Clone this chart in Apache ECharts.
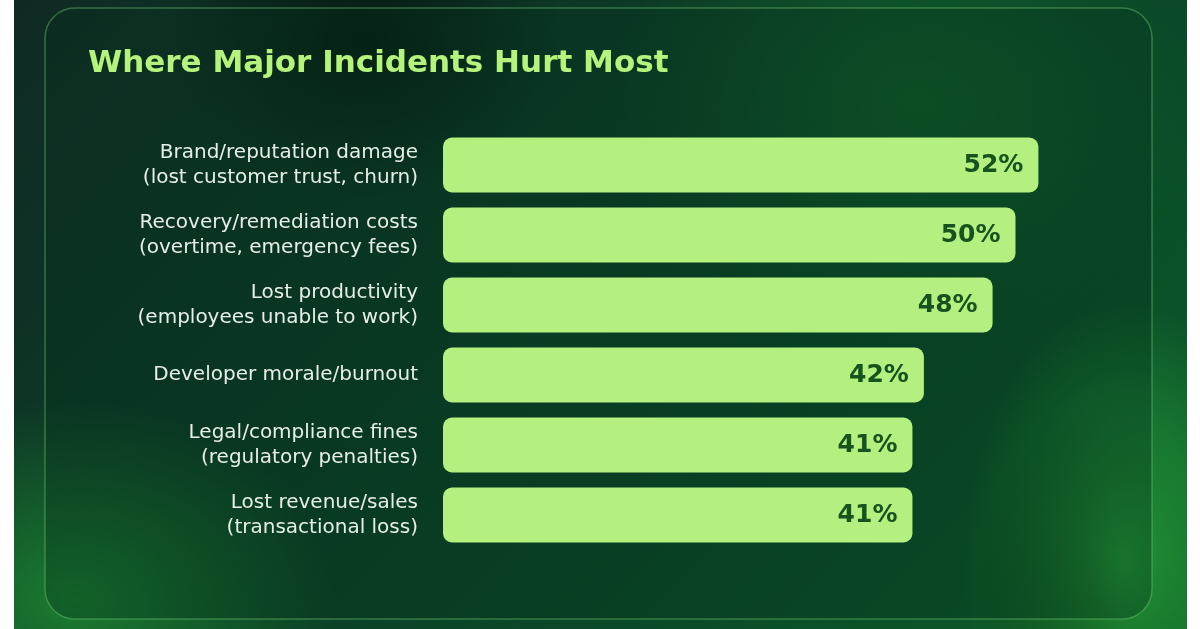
<!DOCTYPE html>
<html>
<head>
<meta charset="utf-8">
<script src="https://cdn.jsdelivr.net/npm/echarts@6/dist/echarts.min.js"></script>
<style>
html,body{margin:0;padding:0;background:#ffffff;width:1200px;height:629px;overflow:hidden;}
#bg{position:absolute;left:14px;top:0;width:1173px;height:629px;
 background:
  radial-gradient(ellipse 160px 260px at 1110px 560px, rgba(40,170,60,0.85), rgba(40,170,60,0) 100%),
  radial-gradient(ellipse 120px 200px at 1080px 600px, rgba(0,20,10,0.9), rgba(0,20,10,0) 100%),
  radial-gradient(ellipse 260px 200px at 60px 600px, rgba(30,140,50,0.8), rgba(30,140,50,0) 100%),
  radial-gradient(ellipse 200px 160px at 350px 40px, rgba(5,25,15,0.9), rgba(5,25,15,0) 100%),
  radial-gradient(ellipse 300px 250px at 900px 100px, rgba(20,110,45,0.6), rgba(20,110,45,0) 100%),
  linear-gradient(135deg, #0f2a24 0%, #0c3a26 35%, #0a4a28 70%, #0e5e2a 100%);}
#chart{position:absolute;left:0;top:0;width:1200px;height:629px;}
</style>
</head>
<body>
<div id="bg"></div>
<div id="chart"></div>
<script>
const titleText = 'Where Major Incidents Hurt Most';
const categories = [
  'Brand/reputation damage\n(lost customer trust, churn)',
  'Recovery/remediation costs\n(overtime, emergency fees)',
  'Lost productivity\n(employees unable to work)',
  'Developer morale/burnout',
  'Legal/compliance fines\n(regulatory penalties)',
  'Lost revenue/sales\n(transactional loss)'
];
const values = [52, 50, 48, 42, 41, 41];

const chart = echarts.init(document.getElementById('chart'), null, {renderer: 'canvas'});
chart.setOption({
  backgroundColor: 'transparent',
  animation: false,
  title: {
    text: titleText,
    left: 83, top: 43,
    textStyle: {color: '#b6f37c', fontFamily: 'DejaVu Sans', fontWeight: 'bold', fontSize: 31}
  },
  graphic: [{
    type: 'rect',
    shape: {x: 45, y: 8, width: 1107, height: 611, r: 30},
    style: {fill: 'rgba(6,50,30,0.35)', stroke: 'rgba(110,190,110,0.45)', lineWidth: 1.5},
    silent: true, z: -1
  }],
  grid: {left: 443, right: 70, top: 130, bottom: 79, containLabel: false},
  xAxis: {
    type: 'value', min: 0, max: 60, show: false
  },
  yAxis: {
    type: 'category', inverse: true, data: categories,
    axisLine: {show: false}, axisTick: {show: false}, splitLine: {show: false},
    axisLabel: {
      color: '#e6efe6', fontFamily: 'DejaVu Sans', fontSize: 20, lineHeight: 25,
      margin: 25, align: 'right'
    }
  },
  series: [{
    type: 'bar', data: values, barWidth: 55,
    itemStyle: {color: '#b3f07f', borderRadius: 9},
    label: {
      show: true, position: 'insideRight', distance: 15,
      formatter: '{c}%', color: '#17521f', fontFamily: 'DejaVu Sans', fontWeight: 'bold', fontSize: 25
    }
  }]
});
</script>
</body>
</html>
